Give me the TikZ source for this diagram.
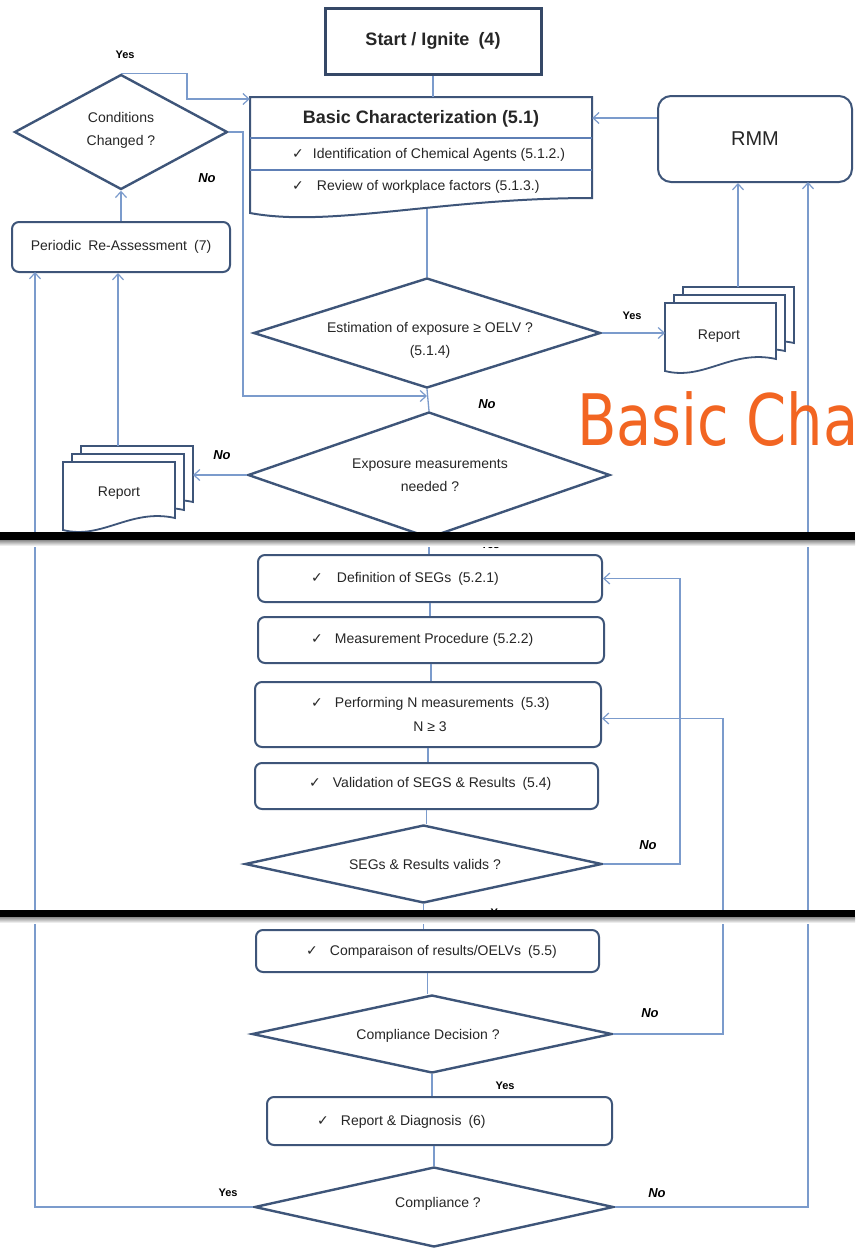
\documentclass[tikz,border=0pt]{standalone}
\usepackage{fontspec}
\usepackage{graphicx}
\setmainfont{Liberation Sans}
\newfontfamily\symfont{DejaVu Sans}
\newfontfamily\orfont{DejaVu Sans}
\usetikzlibrary{shapes.geometric,arrows.meta}
\definecolor{boxc}{HTML}{3E5579}
\definecolor{linec}{HTML}{7B9BCC}
\definecolor{sepc}{HTML}{5E7FB5}
\definecolor{txtc}{HTML}{262626}
\definecolor{orng}{HTML}{F26522}
\newcommand\ck{{\symfont\fontsize{14}{14}\selectfont ✓}}
\newcommand\docpath[4]{%
  \filldraw[draw=boxc, line width=1.8pt, fill=white]
    ({#1},{#2}) -- ({#1+#3},{#2}) -- ({#1+#3},{#2+#4-12})
    .. controls ({#1+0.6*#3},{#2+#4-22}) and ({#1+0.35*#3},{#2+#4+10}) .. ({#1},{#2+#4}) -- cycle;}
\newcommand\multidoc[4]{%
  \docpath{#1+18}{#2-16}{#3}{#4}%
  \docpath{#1+9}{#2-8}{#3}{#4}%
  \docpath{#1}{#2}{#3}{#4}}
\begin{document}
\begin{tikzpicture}[x=1pt,y=-1pt,
  txt/.style={font=\fontsize{14}{23}\selectfont, text=txtc, inner sep=0pt, align=center},
  rbox/.style={draw=boxc, line width=2pt, rounded corners=7pt, fill=white, inner sep=0pt, font=\fontsize{14}{20}\selectfont, text=txtc},
  dia/.style={diamond, draw=boxc, line width=2.4pt, fill=white, inner sep=0pt},
  link/.style={draw=linec, line width=1.3pt},
  arr/.style={link, -{Straight Barb[length=6pt,width=11pt,line width=1.2pt]}},
  nolab/.style={font=\fontsize{13}{13}\selectfont\bfseries\itshape, text=black, inner sep=0pt},
  ylab/.style={font=\fontsize{11}{11}\selectfont\bfseries, text=black, inner sep=0pt}]
\useasboundingbox (0,0) rectangle (855,1254);
\fill[white] (0,0) rectangle (855,1254);

% ---------- top section ----------
\node[draw=boxc!85!black, line width=3pt, fill=white, minimum width=216, minimum height=66,
      font=\fontsize{18}{18}\selectfont\bfseries, text=txtc] (start) at (433,41) {Start / Ignite\enspace(4)};

% Basic characterization (document shape)
\filldraw[draw=boxc, line width=2pt, fill=white] (250,97) -- (592,97) -- (592,198)
   .. controls (440,198) and (330,228) .. (250,213) -- cycle;
\draw[sepc, line width=1.2pt] (250,138) -- (592,138);
\draw[sepc, line width=1.2pt] (250,170) -- (592,170);
\node[inner sep=0, minimum width=342, minimum height=101] (basic) at (421,147.5) {};
\node[txt, font=\fontsize{18}{18}\selectfont\bfseries] (basict) at (421,119) {Basic Characterization (5.1)};
\node[txt, anchor=west] (row1) at (292,155) {\ck\hspace{9pt}Identification of Chemical Agents (5.1.2.)};
\node[txt, anchor=west] (row2) at (292,187) {\ck\hspace{13pt}Review of workplace factors (5.1.3.)};
\coordinate (bbot) at (0,209);

\node[rbox, rounded corners=13pt, minimum width=194, minimum height=86, font=\fontsize{20}{20}\selectfont] (rmm) at (755,139) {RMM};

\node[dia, minimum width=213, minimum height=115] (cond) at (121,132) {};
\node[txt] (condt) at (121,130) {Conditions\\Changed ?};
\node[rbox, minimum width=218, minimum height=50] (per) at (121,247) {Periodic\enspace Re-Assessment\enspace(7)};

\node[dia, minimum width=347, minimum height=110] (est) at (427,333) {};
\node[txt] (estt) at (430,340) {Estimation of exposure ≥ OELV ?\\(5.1.4)};
\node[dia, minimum width=362, minimum height=126] (exp) at (429,475) {};
\node[txt] (expt) at (430,475) {Exposure measurements\\needed ?};

% report documents
\multidoc{665}{303}{111}{68}
\node[txt] (repR) at (719,336) {Report};
\coordinate (repRtop) at (738,287);
\coordinate (repRedge) at (665,0);
\multidoc{63}{462}{112}{68}
\node[txt] (repL) at (119,493) {Report};
\coordinate (repLtop) at (118,446);
\coordinate (repLedge) at (193,0);

% ---------- middle section ----------
\node[rbox, minimum width=344, minimum height=47] (def) at (430,578.5) {};
\node[txt, anchor=west] (deft) at (311,579) {\ck\hspace{14pt}Definition of SEGs\enspace(5.2.1)};
\node[rbox, minimum width=346, minimum height=46] (meas) at (431,640) {};
\node[txt, anchor=west] (meast) at (311,640) {\ck\hspace{12pt}Measurement Procedure (5.2.2)};
\node[rbox, minimum width=346, minimum height=65] (perf) at (428,714.5) {};
\node[txt, anchor=west] (perft) at (311,704) {\ck\hspace{12pt}Performing N measurements\enspace(5.3)};
\node[txt] (perfn) at (430,727) {N ≥ 3};
\node[rbox, minimum width=343, minimum height=46] (val) at (426.5,786) {};
\node[txt, anchor=west] (valt) at (309,784) {\ck\hspace{12pt}Validation of SEGS \& Results\enspace(5.4)};
\node[dia, minimum width=357, minimum height=78] (segs) at (423.5,864) {};
\node[txt] (segst) at (425,864) {SEGs \& Results valids ?};

% ---------- bottom section ----------
\node[rbox, minimum width=343, minimum height=42] (comp) at (427.5,951) {};
\node[txt, anchor=west] (compt) at (306,952) {\ck\hspace{12pt}Comparaison of results/OELVs\enspace(5.5)};
\node[dia, minimum width=360, minimum height=78] (cdec) at (432,1034) {};
\node[txt] (cdect) at (428,1036) {Compliance Decision ?};
\node[rbox, minimum width=345, minimum height=48] (rd) at (439.5,1121) {};
\node[txt, anchor=west] (rdt) at (317,1122) {\ck\hspace{12pt}Report \& Diagnosis\enspace(6)};
\node[dia, minimum width=359, minimum height=80] (cpl) at (434,1207) {};
\node[txt] (cplt) at (438,1204) {Compliance ?};

% ---------- connectors ----------
\draw[link] (start.south) -- (start.south |- basic.north);
\coordinate (ycorner) at (187,99);
\draw[arr] (cond.north) -| (ycorner) -- (ycorner -| basic.west);
\draw[arr] ([yshift=21]rmm.west) -- ([yshift=21]rmm.west -| basic.east);
\draw[link] (est.north) -- (est.north |- bbot);
\draw[arr] (est.east) -- (est.east -| repRedge);
\draw[arr] (repRtop) -- (repRtop |- rmm.south);
\coordinate (nocorner) at (243,396);
\draw[arr] (cond.east) -| (nocorner) -- (nocorner -| est.south);
\draw[link] (est.south) -- (exp.north);
\draw[arr] (exp.west) -- (exp.west -| repLedge);
\draw[arr] (repLtop) -- (repLtop |- per.south);
\draw[arr] (per.north) -- (cond.south);
\draw[link] (exp.south) -- (exp.south |- def.north);
\draw[link] (def.south) -- (def.south |- meas.north);
\draw[link] (meas.south) -- (meas.south |- perf.north);
\draw[link] (perf.south) -- (perf.south |- val.north);
\draw[link] (val.south) -- (val.south |- segs.north);
\draw[link] (segs.south) -- (segs.south |- comp.north);
\draw[link] (comp.south) -- (comp.south |- cdec.north);
\draw[link] (cdec.south) -- (cdec.south |- rd.north);
\draw[link] (cpl.north) -- (cpl.north |- rd.south);
\coordinate (loopA) at (680,0);
\draw[arr] (segs.east) -| (loopA |- def.east) -- (def.east);
\coordinate (loopB) at (723,0);
\coordinate (perfIn) at ([yshift=-4pt]perf.east);
\draw[arr] (cdec.east) -| (loopB |- perfIn) -- (perfIn);
\coordinate (perL) at (35,272);
\draw[arr] (cpl.west) -| (perL);
\coordinate (rmmR) at (808,182);
\draw[arr] (cpl.east) -| (rmmR);

% ---------- labels ----------
\node[ylab] (l1) at (125,55) {Yes};
\node[nolab] (l2) at (207,178) {No};
\node[ylab] (l3) at (632,316) {Yes};
\node[nolab] (l4) at (487,404) {No};
\node[nolab] (l5) at (222,455) {No};
\node[ylab] (l6) at (490,545) {Yes};
\node[nolab] (l7) at (648,845) {No};
\node[ylab] (l8) at (500,913) {Yes};
\node[nolab] (l9) at (650,1013) {No};
\node[ylab] (l10) at (505,1086) {Yes};
\node[ylab] (l11) at (228,1193) {Yes};
\node[nolab] (l12) at (657,1193) {No};

% ---------- overlay ----------
\begin{scope}
\clip (0,0) rectangle (855,1254);
\node[anchor=base west, inner sep=0, text=orng, font=\orfont\fontsize{71}{71}\selectfont] (wm) at (577,445) {\scalebox{0.81}[1]{Basic\hspace{0.3em}Cha}};
\end{scope}
\shade[top color=black!45, bottom color=white] (0,540) rectangle (855,546);
\fill[black] (0,532) rectangle (855,540);
\shade[top color=black!45, bottom color=white] (0,917) rectangle (855,923);
\fill[black] (0,910) rectangle (855,917);
\end{tikzpicture}
\end{document}
